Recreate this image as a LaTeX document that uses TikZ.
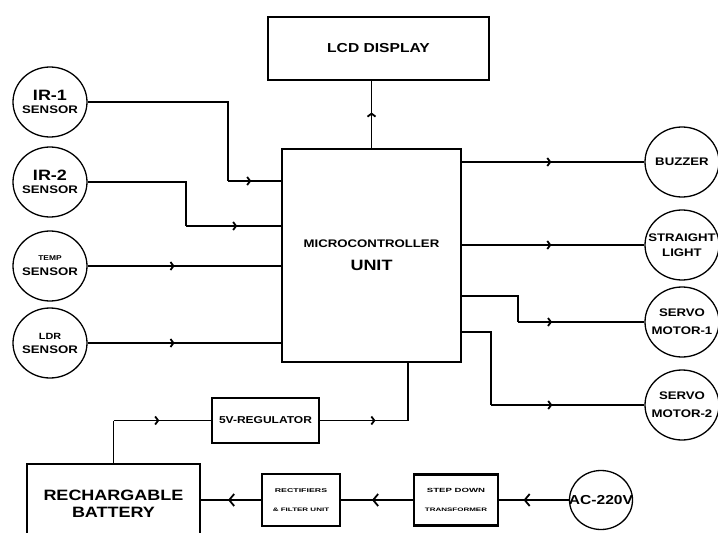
\documentclass[tikz,border=0pt]{standalone}
\usepackage{fontspec}
\newfontfamily\blockfont[FakeStretch=1.2]{Liberation Sans}
\newfontfamily\smallblockfont[FakeStretch=1.6]{Liberation Sans}
\usetikzlibrary{arrows.meta,decorations.markings,shapes.geometric}
\tikzset{
  ->-/.style={decoration={
    markings,
    mark=at position #1 with {\arrow{Straight Barb[length=3pt,width=8pt]}}},
    postaction={decorate}},
  ->-big/.style={decoration={
    markings,
    mark=at position #1 with {\arrow{Straight Barb[length=5pt,width=12pt]}}},
    postaction={decorate}}
}
\newcommand\fsz[1]{\fontsize{#1}{#1}\selectfont}

\begin{document}
\begin{tikzpicture}[x=1pt,y=-1pt,
    wire/.style={line width=1.8pt},
    block/.style={draw,line width=2.2pt,align=center,inner sep=0pt,font=\blockfont\bfseries},
    device/.style={draw,ellipse,line width=1.3pt,minimum width=74pt,minimum height=70pt,
      inner xsep=-10pt,inner ysep=0pt,align=center,font=\blockfont\bfseries}]
            \useasboundingbox (0,0) rectangle (718,533);

            % Display and controller
            \node[block,minimum width=221pt,minimum height=63pt] (lcd) at (378.5,48.5) {\fsz{13}LCD DISPLAY};
            \node[block,minimum width=179pt,minimum height=213pt] (mcu) at (371.5,255.5) {\fsz{11}MICROCONTROLLER\\[11pt]\fsz{15}UNIT};

            % Sensors on the left
            \node[device] (ir1) at (50,102) {\fsz{15}IR-1\\[1pt]\fsz{11}SENSOR};
            \node[device] (ir2) at (50,182) {\fsz{15}IR-2\\[1pt]\fsz{11}SENSOR};
            \node[device] (temp) at (50,266) {\fsz{7}TEMP\\[3pt]\fsz{11}SENSOR};
            \node[device] (ldr) at (50,343) {\fsz{9}LDR\\[2pt]\fsz{11}SENSOR};

            % Outputs on the right
            \node[device] (buzzer) at (682,162) {\fsz{11}BUZZER};
            \node[device] (light) at (682,245) {\fsz{11}STRAIGHT\\[3pt]\fsz{11}LIGHT};
            \node[device] (servo1) at (682,322) {\fsz{11}SERVO\\[6pt]\fsz{11}MOTOR-1};
            \node[device] (servo2) at (682,405) {\fsz{11}SERVO\\[6pt]\fsz{11}MOTOR-2};

            % Power supply
            \node[device,minimum width=63pt,minimum height=59pt] (ac) at (601,500) {\fsz{13}AC-220V};
            \node[block,minimum width=107pt,minimum height=45pt] (reg) at (265.5,420.5) {\fsz{10}5V-REGULATOR};
            \node[block,minimum width=173pt,minimum height=80pt] (bat) at (113.5,504) {\fsz{15}RECHARGABLE\\[5pt]\fsz{15}BATTERY};
            \node[block,font=\smallblockfont\bfseries,minimum width=78pt,minimum height=52pt] (rect) at (301,500) {\fsz{5.5}RECTIFIERS\\[7pt]\fsz{5}\& FILTER UNIT};
            \node[block,font=\smallblockfont\bfseries,minimum width=84pt,minimum height=51pt] (sd) at (456,500) {\fsz{6}STEP DOWN\\[7pt]\fsz{5}TRANSFORMER};

            % Sensor wires
            \coordinate (k1) at (228,181);
            \draw[wire] (ir1.east) -| (k1);
            \draw[wire,->-=0.44] (k1) -- (k1 -| mcu.west);
            \coordinate (k2) at (186,226);
            \draw[wire] (ir2.east) -| (k2);
            \draw[wire,->-=0.54] (k2) -- (k2 -| mcu.west);
            \draw[wire,->-=0.45] (temp.east) -- (temp.east -| mcu.west);
            \draw[wire,->-=0.45] (ldr.east) -- (ldr.east -| mcu.west);
            \draw[wire,->-=0.53] (mcu.north) -- (mcu.north |- lcd.south);

            % Output wires
            \draw[wire,->-=0.49] (mcu.east |- buzzer.west) -- (buzzer.west);
            \draw[wire,->-=0.49] (mcu.east |- light.west) -- (light.west);
            \coordinate (k3) at (518,296);
            \draw[wire] (mcu.east |- k3) -- (k3) -- (k3 |- servo1.west);
            \draw[wire,->-=0.27] (k3 |- servo1.west) -- (servo1.west);
            \coordinate (k4) at (491,332);
            \draw[wire] (mcu.east |- k4) -- (k4) -- (k4 |- servo2.west);
            \draw[wire,->-=0.40] (k4 |- servo2.west) -- (servo2.west);

            % Supply wires
            \coordinate (k5) at (408,420.5);
            \draw[wire,->-=0.63] (reg.east) -- (k5);
            \draw[wire] (k5) -- (k5 |- mcu.south);
            \coordinate (k6) at (bat.north |- reg.west);
            \draw[wire] (bat.north) -- (k6);
            \draw[wire,->-=0.47] (k6) -- (reg.west);
            \draw[wire,->-big=0.65] (ac.west) -- (sd.east);
            \draw[wire,->-big=0.57] (sd.west) -- (rect.east);
            \draw[wire,->-big=0.55] (rect.west) -- (rect.west -| bat.east);
        \end{tikzpicture}
\end{document}
